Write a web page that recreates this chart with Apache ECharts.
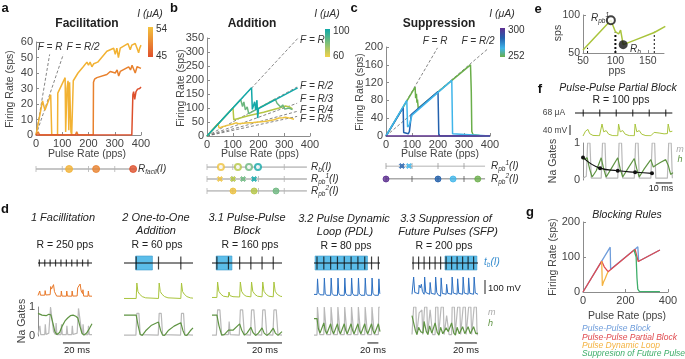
<!DOCTYPE html>
<html>
<head>
<meta charset="utf-8">
<script src="https://cdn.jsdelivr.net/npm/echarts@6/dist/echarts.min.js"></script>
<style>
html, body { margin: 0; padding: 0; background: #fff; }
#chart { width: 685px; height: 359px; }
</style>
</head>
<body>
<div id="chart"></div>
<script>
var FONT = '"Liberation Sans", Arial, Helvetica, sans-serif';

// ---------- a: facilitation (pulse rate pps, firing rate sps) ----------
var aHigh = [[0,0],[25,22],[34,16],[56,26],[60,0],[82,0],[83,27],[111,37],[113,2],[117,2],[118,30],[122,35],[125,3],[128,34],[133,2],[136,0],[140,0],[142,35],[160,40],[180,44],[194,47],[200,45],[206,47],[213,44],[220,46],[235,47],[255,51],[270,54],[277,53],[283,55],[296,56],[302,52],[308,56],[314,50],[321,56],[350,59],[359,55],[365,58],[372,57],[378,59],[385,56],[391,53],[395,56],[400,58]];
var aMid = [[0,0],[8,2],[14,0],[150,0],[155,2],[160,0],[218,0],[219,34],[223,36],[232,37],[270,39],[283,41],[302,40],[309,42],[315,38],[321,41],[353,44],[360,42],[366,45],[372,44],[378,40],[385,44],[391,45],[400,43]];
var aLow = [[0,0],[365,0],[369,26],[372,28],[376,23],[381,28],[387,29.6],[395,30],[400,31]];
var aRef = [[[0,0],[52,52]], [[0,0],[104,52]]];
var aFacil = [126, 229, 370];
var aCbar = ['54', '45'];

// ---------- b: addition ----------
var bTeal = [[0,0],[173,172],[176,95],[181,97],[185,122],[189,93],[194,128],[197,64],[200,98],[352,172]];
var bGreen = [[0,0],[131,130],[138,105],[143,122],[149,93],[156,104],[162,80],[265,132],[272,117],[279,123],[287,103],[294,111],[302,96],[318,100],[332,94]];
var bYG = [[0,0],[101,100],[104,58],[108,57],[160,72],[220,85],[280,100],[305,107],[320,104],[332,97]];
var bYellow = [[0,0],[43,45],[47,28],[60,33],[80,38],[100,43],[112,47],[116,40],[123,44],[130,44],[150,46],[180,48],[200,50],[230,53],[260,58],[280,64],[295,65],[305,67],[312,63],[325,63],[338,60]];
var bRef = [[[0,0],[354,350]], [[0,0],[350,175]], [[0,0],[350,117]], [[0,0],[350,88]], [[0,0],[350,70]]];
var bRefLabels = ['F = R', 'F = R/2', 'F = R/3', 'F = R/4', 'F = R/5'];
var bRb = [54, 120, 163, 198];
var bRpb1 = [50, 101, 140, 183];
var bRpb2 = [101, 183, 268];
var bCbar = ['100', '60'];

// ---------- c: suppression ----------
var cPurple = [[0,0],[400,0]];
var cGreen = [[0,0],[112,110],[114,85],[117,95],[119,75],[121,82],[124,62],[325,160],[328,100],[330,10],[335,3],[360,1],[400,0]];
var cDark = [[0,0],[66,64],[68,8],[72,4],[86,5],[90,10],[94,30],[97,48],[100,50],[200,100],[203,5],[207,0],[400,0]];
var cLight = [[0,0],[80,80],[83,20],[86,17],[90,25],[95,36],[100,47],[253,125],[256,5],[260,1],[400,0]];
var cRef = [[[0,0],[198,198]], [[0,0],[394,197]]];
var cRpb1 = [61, 88];
var cRpb2 = [0, 200, 258, 353];
var cCbar = ['300', '252'];

// ---------- e ----------
var eCurve = [[50,54],[93,93],[100,78],[103,80],[105,75],[108,80],[112,61],[130,67],[160,77],[177,85]];
var eRpb1 = [93, 93];
var eRb = [112, 61];
var eGuides = [[57,57],[100,77],[160,78]];

// ---------- f: pulse-pulse partial block, R = 100 pps (time in ms) ----------
var fPulse = [0, 10, 20, 30, 40, 50];
var fV = [[0,0],[0.5,0],[1.5,40],[3,55],[4,20],[6,5],[10,2],[11,5],[11.5,100],[12.5,35],[14,45],[15.5,15],[18,3],[21,2],[21.5,100],[22.5,35],[24,45],[25.5,15],[28,3],[31,2],[31.5,100],[32.5,35],[34,45],[35.5,15],[38,3],[41,2],[41.5,18],[43,30],[46,25],[49,18],[51,20],[51.5,100],[52.5,35],[54,40]];
var fM = [[0,0.05],[2,0.1],[2.8,1],[4.2,1],[5,0.05],[11,0.05],[11.8,1],[13.3,1],[14,0.05],[21,0.05],[21.8,1],[23.3,1],[24,0.05],[31,0.05],[31.8,1],[33.3,1],[34,0.05],[41,0.05],[41.8,1],[43.3,1],[44,0.05],[51,0.05],[51.8,1],[53.3,1],[54,0.05]];
var fH = [[0,0.55],[2.5,0.6],[4,0.3],[5.5,0.08],[8,0.25],[11,0.6],[12.5,0.3],[14,0.08],[17,0.3],[21,0.6],[22.5,0.3],[24,0.08],[27,0.3],[31,0.58],[32.5,0.3],[34,0.08],[37,0.3],[41,0.55],[42.5,0.35],[44,0.4],[47,0.48],[50,0.55],[51.5,0.4],[53,0.15],[54.4,0.2]];
var fDots = [[0,0.61],[10.3,0.32],[21,0.25],[31.5,0.21],[41.7,0.18]];

// ---------- g: blocking rules ----------
var gBlock = [[0,0],[88,88],[128,128],[130,65],[245,122],[258,129],[262,88],[362,120]];
var gPartial = [[0,0],[88,88],[100,72],[118,58],[245,122],[260,87],[362,120]];
var gLoop = [[88,88],[91,18],[96,20],[96,28],[104,28],[104,38],[112,40],[112,50],[118,58]];
var gSuppress = [[240,120],[245,122],[250,100],[254,40],[258,8],[265,2],[362,1]];
var gLegend = ['Pulse-Pulse Block', 'Pulse-Pulse Partial Block', 'Pulse Dynamic Loop', 'Suppresion of Future Pulses'];

// ---------- d: example traces (time in ms) ----------
var d1Pulse = [1,5,9,13,17,21,25,29,33,37];
var d1Block = [];
var d1V = [[0,10],[1,10],[1.3,45],[1.8,12],[5,12],[5.3,48],[5.8,14],[9,16],[9.4,80],[10,60],[11,65],[11.5,95],[12.2,40],[13,30],[13.3,55],[13.8,5],[17,4],[17.3,45],[17.8,5],[21,4],[21.3,45],[21.8,5],[25,4],[25.3,45],[25.8,5],[29,6],[29.4,70],[30.5,80],[31.2,100],[32,45],[33,25],[33.3,55],[33.8,5],[37,4],[37.3,45],[37.8,5],[40,4]];
var d1M = [[0,0.05],[1,0.05],[1.4,0.35],[2,0.05],[5,0.05],[5.4,0.4],[6,0.05],[8,0.1],[9.3,1],[10.5,1],[11.5,0.15],[13,0.05],[13.4,0.45],[14,0.05],[17,0.05],[17.4,0.4],[18,0.05],[21,0.05],[21.4,0.35],[22,0.05],[25,0.05],[25.4,0.35],[26,0.05],[29,0.1],[30,0.95],[31.3,1],[32.3,0.15],[33,0.05],[33.4,0.4],[34,0.05],[37,0.05],[37.4,0.35],[38,0.05],[40,0.05]];
var d1H = [[0,0.78],[3,0.72],[6,0.7],[8,0.75],[9.5,0.73],[11,0.45],[12.5,0.15],[14,0.05],[16,0.12],[18,0.35],[20,0.52],[22,0.62],[24,0.7],[26,0.72],[28,0.68],[29.5,0.62],[31,0.35],[32.5,0.1],[34,0.03],[36,0.1],[38,0.25],[40,0.42]];

var d2Pulse = [9,25.5,42];
var d2Block = [[8.6,21]];
var d2V = [[0,0],[9,0],[9.5,100],[10.3,45],[11.5,28],[13.5,12],[16,4],[25.5,0],[26,100],[26.8,45],[28,28],[30,12],[32.5,4],[42,0],[42.5,100],[43.3,45],[44.5,28],[46.5,12],[49,4],[51,2]];
var d2M = [[0,0.03],[8.8,0.03],[9.5,0.78],[11,0.78],[12,0.05],[25.3,0.03],[26,0.78],[27.5,0.78],[28.5,0.05],[41.8,0.03],[42.5,0.78],[44,0.78],[45,0.05],[51,0.03]];
var d2H = [[0,0.72],[9,0.72],[10.5,0.35],[12,0.05],[13.5,0.02],[16,0.18],[20,0.36],[25.5,0.48],[27,0.2],[28.5,0.03],[30,0.02],[33,0.2],[37,0.34],[42,0.46],[43.5,0.2],[45,0.03],[46.5,0.02],[49,0.18],[51,0.28]];

var d31Pulse = [2.8,9.4,15.8,22.2,28.6,35];
var d31Block = [[2.4,11.4]];
var d31V = [[0,0],[2.8,0],[3.2,100],[3.9,40],[5,22],[6.5,8],[9.4,3],[9.7,35],[10.2,12],[12,5],[15.8,3],[16.2,100],[16.9,40],[18,20],[19.5,8],[22.2,4],[22.6,100],[23.3,40],[24.5,20],[26,8],[28.6,4],[29,100],[29.7,40],[31,20],[32.5,8],[35,4],[35.4,100],[36.1,40],[37.3,20],[39,8],[40,6]];
var d31M = [[0,0.03],[2.5,0.03],[3.2,0.9],[4.5,0.9],[5.5,0.05],[9.4,0.05],[9.8,0.5],[10.4,0.05],[15.6,0.03],[16.2,0.9],[17.5,0.9],[18.5,0.05],[22,0.03],[22.6,0.9],[23.9,0.9],[24.9,0.05],[28.4,0.03],[29,0.9],[30.3,0.9],[31.3,0.05],[34.8,0.03],[35.4,0.9],[36.7,0.9],[37.7,0.05],[40,0.03]];
var d31H = [[0,0.72],[2.8,0.72],[4,0.35],[5.5,0.03],[7,0.05],[9.4,0.2],[10,0.15],[12,0.2],[15.8,0.42],[17,0.2],[18.5,0.03],[20,0.1],[22.2,0.3],[23.4,0.12],[24.9,0.02],[26.5,0.1],[28.6,0.28],[29.8,0.1],[31.3,0.02],[33,0.1],[35,0.27],[36.2,0.1],[37.7,0.02],[40,0.15]];

var d32Pulse = [5.5,18,30.5,43,55.5,68,80.5,93,105.5,118];
var d32Block = [[2,98]];
var d32V = [[0,5],[5.5,5],[6.5,95],[8,15],[11,3],[18,2],[19,100],[20.5,12],[23,0],[30.5,0],[31.5,100],[33,12],[36,0],[43,0],[44,100],[45.5,12],[48,0],[55.5,0],[56.5,100],[58,12],[61,0],[68,0],[69,100],[70.5,12],[73,0],[80.5,0],[81.5,100],[83,12],[86,0],[93,0],[94,100],[95.5,12],[98,0],[105.5,0],[106.5,100],[108,12],[111,0],[118,0],[119,95],[120.5,12],[121,8]];
var d32M = [[0,0.03],[5.5,0.03],[6.3,1],[9.5,1],[10.5,0.05],[18,0.05],[18.8,1],[22,1],[23,0.05],[30.5,0.05],[31.3,1],[34.5,1],[35.5,0.05],[43,0.05],[43.8,1],[47,1],[48,0.05],[55.5,0.05],[56.3,1],[59.5,1],[60.5,0.05],[68,0.05],[68.8,1],[72,1],[73,0.05],[80.5,0.05],[81.3,1],[84.5,1],[85.5,0.05],[93,0.05],[93.8,1],[97,1],[98,0.05],[105.5,0.05],[106.3,1],[109.5,1],[110.5,0.05],[118,0.05],[118.8,1],[121,1]];
var d32H = [[0,0.6],[5.5,0.6],[8,0.25],[11,0.1],[18,0.45],[20.5,0.2],[23.5,0.08],[30.5,0.42],[33,0.2],[36,0.08],[43,0.42],[45.5,0.2],[48.5,0.08],[55.5,0.42],[58,0.2],[61,0.08],[68,0.42],[70.5,0.2],[73.5,0.08],[80.5,0.42],[83,0.2],[86,0.08],[93,0.42],[95.5,0.2],[98.5,0.08],[105.5,0.42],[108,0.2],[111,0.08],[118,0.42],[121,0.15]];

var d33Pulse = [1,6,11,16,21,26,31,36,41,46,51,56];
var d33Block = [[30,59]];
var d33V = [[0,5],[1,5],[1.5,100],[2.5,15],[4,5],[6,8],[6.5,55],[7.5,40],[8.5,60],[9.5,20],[11,5],[11.5,100],[12.5,15],[14,5],[16,5],[16.5,70],[17.5,10],[21,5],[21.5,100],[22.5,15],[24,0],[26,-5],[26.5,95],[27.5,10],[31,5],[31.5,60],[32.5,10],[36,5],[36.5,100],[37.5,12],[41,5],[41.5,90],[42.5,10],[46,5],[46.5,100],[47.5,12],[51,5],[51.5,95],[52.5,10],[56,5],[56.5,100],[57.5,12],[60,5]];
var d33M = [[0,0.05],[1,0.05],[1.5,1],[3.5,1],[4.2,0.05],[6,0.05],[6.5,0.8],[9,0.9],[9.8,0.05],[11,0.05],[11.5,1],[13.5,1],[14.2,0.05],[16,0.05],[16.5,0.9],[18,0.9],[18.7,0.05],[21,0.05],[21.5,1],[23.5,1],[24.2,0.05],[26,0.05],[26.5,1],[28.5,1],[29.2,0.05],[31,0.05],[31.5,0.7],[33,0.7],[33.7,0.05],[36,0.05],[36.5,1],[38.5,1],[39.2,0.05],[41,0.05],[41.5,1],[43.5,1],[44.2,0.05],[46,0.05],[46.5,1],[48.5,1],[49.2,0.05],[51,0.05],[51.5,1],[53.5,1],[54.2,0.05],[56,0.05],[56.5,1],[58.5,1],[59.2,0.05],[60,0.05]];
var d33H = [[0,0.7],[1,0.7],[3,0.2],[4.5,0.05],[6,0.3],[8,0.15],[10,0.1],[11,0.5],[13,0.15],[14.5,0.05],[16,0.35],[18,0.1],[21,0.45],[23,0.12],[24.5,0.03],[26,0.3],[28,0.08],[29.5,0.03],[31,0.28],[33,0.15],[36,0.45],[38,0.1],[39.5,0.03],[41,0.3],[43,0.08],[44.5,0.03],[46,0.32],[48,0.08],[49.5,0.03],[51,0.32],[53,0.08],[54.5,0.03],[56,0.32],[58,0.08],[60,0.1]];

// colours
var C = {
  aHigh: '#f2b233', aMid: '#e8812d', aLow: '#dd4f2b',
  bTeal: '#13a8a8', bGreen: '#6bb67e', bYG: '#b4c643', bYellow: '#edc23e',
  cPurple: '#5d2e91', cDark: '#2361ae', cLight: '#3fb5ea', cGreen: '#6aae4a',
  lime: '#a9c43c', m: '#b9b9b9', h: '#5f9443', vBlue: '#2c6fc0', vOrange: '#e8792a',
  gBlue: '#6f9ddb', gRed: '#e04a4f', gOrange: '#f4b341', gGreen: '#3fae6a'
};

var grid = [], xAxis = [], yAxis = [], series = [], graphic = [];

function addGrid(l, t, w, h, xa, ya) {
  var i = grid.length;
  grid.push({ left: l, top: t, width: w, height: h, containLabel: false, outerBoundsMode: 'none' });
  xa.gridIndex = i; xa.type = 'value';
  ya.gridIndex = i; ya.type = 'value';
  xAxis.push(xa); yAxis.push(ya);
  return i;
}
function hid(min, max, inverse) {
  return { show: false, min: min, max: max, inverse: !!inverse };
}
function vis(min, max, interval, extra) {
  var o = {
    min: min, max: max, interval: interval,
    axisLine: { show: true, lineStyle: { color: '#8c8c8c', width: 1 } },
    axisTick: { show: true, inside: true, length: 3, lineStyle: { color: '#8c8c8c' } },
    axisLabel: { color: '#444', fontSize: 11, fontFamily: FONT, margin: 3, showMaxLabel: true },
    splitLine: { show: false }
  };
  return Object.assign(o, extra || {});
}
function addLine(gi, data, color, width, extra) {
  series.push(Object.assign({
    type: 'line', xAxisIndex: gi, yAxisIndex: gi, data: data, symbol: 'none',
    lineStyle: { color: color, width: width }, itemStyle: { color: color },
    silent: true, z: 2
  }, extra || {}));
}
function addDashed(gi, data) {
  addLine(gi, data, '#666', 0.8, { lineStyle: { color: '#666', width: 0.8, type: [3, 2] } });
}
function addMarks(gi, items, symbol, size, extra) {
  series.push(Object.assign({
    type: 'scatter', xAxisIndex: gi, yAxisIndex: gi, data: items, symbol: symbol,
    symbolSize: size, silent: true, z: 5
  }, extra || {}));
}
function addTrain(gi, pulses, blocks, x0, x1, tickH) {
  if (blocks.length) {
    series.push({
      type: 'line', xAxisIndex: gi, yAxisIndex: gi, data: [[x0, 0]], symbol: 'none',
      lineStyle: { opacity: 0 }, z: 1, silent: true,
      markArea: {
        silent: true,
        itemStyle: { color: '#5bbde9', borderColor: '#3d9ccc', borderWidth: 0.6 },
        data: blocks.map(function (b) { return [{ coord: [b[0], -1] }, { coord: [b[1], 1] }]; })
      }
    });
  }
  addLine(gi, [[x0, 0], [x1, 0]], '#111', 1, { z: 3 });
  addMarks(gi, pulses.map(function (p) { return [p, 0]; }), 'rect', [1.2, tickH], { itemStyle: { color: '#111' }, z: 4 });
}
function txt(x, y, s, o) {
  graphic.push(Object.assign({
    type: 'text', x: x, y: y, silent: true,
    style: Object.assign({
      text: s, fill: '#333', fontSize: 11, fontFamily: FONT,
      align: 'center', verticalAlign: 'middle', textAlign: 'center', textVerticalAlign: 'middle'
    }, o || {})
  }, (o && o.rot) ? { rotation: o.rot } : {}));
}
function rich(x, y, s, color) {
  var base = { fontFamily: FONT, fontStyle: 'italic', fill: color, color: color };
  graphic.push({
    type: 'text', x: x, y: y, silent: true,
    style: {
      text: s, fill: color, fontSize: 10, fontFamily: FONT, fontStyle: 'italic',
      align: 'left', verticalAlign: 'middle', textAlign: 'left', textVerticalAlign: 'middle',
      rich: {
        m: Object.assign({ fontSize: 10, lineHeight: 13 }, base),
        s: Object.assign({ fontSize: 6.5, lineHeight: 5, verticalAlign: 'bottom' }, base),
        p: Object.assign({ fontSize: 6.5, lineHeight: 5, verticalAlign: 'top' }, base)
      }
    }
  });
}
function cbar(x, y, h, stops, labels) {
  graphic.push({
    type: 'rect', silent: true, shape: { x: x, y: y, width: 5, height: h },
    style: { fill: new echarts.graphic.LinearGradient(0, 0, 0, 1, stops) }
  });
  txt(x + 8, y + 2, labels[0], { align: 'left', textAlign: 'left', fontSize: 10 });
  txt(x + 8, y + h - 1, labels[1], { align: 'left', textAlign: 'left', fontSize: 10 });
  txt(x + 2, 14, 'I (\u03bcA)', { fontStyle: 'italic', fontSize: 10.5 });
}
function colored(xs, row, colors) {
  return xs.map(function (x, i) {
    return { value: [x, row], itemStyle: { color: colors[i], borderColor: colors[i] } };
  });
}
var XMARK = 'path://M0,2L2,0L5,3L8,0L10,2L7,5L10,8L8,10L5,7L2,10L0,8L3,5Z';
function dotRow(gi, row, end, color, width) {
  addLine(gi, [[0, row], [end, row]], color, width);
  addMarks(gi, [0, 100, 200, 300].map(function (x) { return [x, row]; }), 'rect', [1, 6], { itemStyle: { color: color }, z: 3 });
}

// ---------- panel a ----------
var ga = addGrid(36, 42, 105, 93, vis(0, 400, 100), vis(0, 60, 10));
aRef.forEach(function (d) { addDashed(ga, d); });
addLine(ga, aHigh, C.aHigh, 1.5);
addLine(ga, aMid, C.aMid, 1.5);
addLine(ga, aLow, C.aLow, 1.5);
var gad = addGrid(36, 165, 105, 8, hid(0, 400), hid(-1, 1));
dotRow(gad, 0, 380, '#b3b3b3', 1.3);
addMarks(gad, colored(aFacil, 0, [C.aHigh, C.aMid, C.aLow]), 'circle', 7);

// ---------- panel b ----------
var gb = addGrid(207, 38, 103, 98, vis(0, 400, 100), vis(0, 350, 50));
bRef.forEach(function (d) { addDashed(gb, d); });
addLine(gb, bYellow, C.bYellow, 1.5);
addLine(gb, bYG, C.bYG, 1.5);
addLine(gb, bGreen, C.bGreen, 1.5);
addLine(gb, bTeal, C.bTeal, 1.5);
var bCols = [C.bYellow, C.bYG, C.bGreen, C.bTeal];
var gbd = addGrid(207, 167, 103, 24, hid(0, 400), hid(0, 2, true));
[0, 1, 2].forEach(function (r) { dotRow(gbd, r, 388, '#b3b3b3', 1.3); });
addMarks(gbd, colored(bRb, 0, bCols), 'emptyCircle', 6, { itemStyle: { borderWidth: 1.6 } });
addMarks(gbd, colored(bRpb1, 1, bCols), XMARK, 5);
addMarks(gbd, colored(bRpb2, 2, [C.bYellow, C.bYG, C.bGreen]), 'circle', 6);

// ---------- panel c ----------
var gc = addGrid(386, 47, 104, 89, vis(0, 400, 100), vis(0, 200, 40));
cRef.forEach(function (d) { addDashed(gc, d); });
addLine(gc, cGreen, C.cGreen, 1.5);
addLine(gc, cDark, C.cDark, 1.5);
addLine(gc, cLight, C.cLight, 1.5);
addLine(gc, cPurple, C.cPurple, 1.5);
var gcd = addGrid(386, 166, 104, 13, hid(0, 400), hid(0, 1, true));
dotRow(gcd, 0, 381, '#9a9a9a', 1);
dotRow(gcd, 1, 381, '#555', 1);
addMarks(gcd, colored(cRpb1, 0, [C.cDark, C.cLight]), XMARK, 5);
addMarks(gcd, colored(cRpb2, 1, [C.cPurple, C.cDark, C.cLight, C.cGreen]), 'circle', 6);

// ---------- panel e ----------
var ge = addGrid(583, 15, 81, 38,
  vis(50, 175, 50, { axisLabel: { color: '#444', fontSize: 10.5, fontFamily: FONT, margin: 3, showMaxLabel: false } }),
  vis(50, 100, 50, { axisLabel: { color: '#444', fontSize: 10.5, fontFamily: FONT, margin: 3 } }));
eGuides.forEach(function (g, i) {
  addLine(ge, [[g[0], 50], g], '#111', i === 1 ? 2 : 1, { lineStyle: { color: '#111', width: i === 1 ? 2 : 1, type: [2, 2] } });
});
addLine(ge, eCurve, C.lime, 1.5);
addMarks(ge, [eRpb1], 'emptyCircle', 8, { itemStyle: { color: '#111', borderColor: '#111', borderWidth: 2 } });
addMarks(ge, [eRb], 'circle', 9, { itemStyle: { color: '#111' } });

// ---------- panel f ----------
var gft = addGrid(575, 106, 98, 14, hid(-5, 54.4), hid(-1, 1));
addTrain(gft, fPulse, [], -5, 54, 7);
var gfv = addGrid(583, 124, 90, 12, hid(0, 54.4), hid(0, 100));
addLine(gfv, fV, C.lime, 1);
var gfg = addGrid(583, 143, 90, 37, hid(0, 54.4), vis(0, 1, 1, { axisTick: { show: false } }));
addLine(gfg, fM, C.m, 1.2);
addLine(gfg, fH, C.h, 1.2);
addLine(gfg, fDots, '#111', 1.2, { smooth: true, symbol: 'circle', symbolSize: 4, showSymbol: true, itemStyle: { color: '#111' }, z: 5 });
addLine(gfg, [[44, -0.08], [54, -0.08]], '#111', 1, { clip: false });

// ---------- panel g ----------
var gg = addGrid(583, 222, 85, 70, vis(0, 400, 200), vis(0, 200, 100));
addLine(gg, gBlock, C.gBlue, 1.3);
addLine(gg, gPartial, C.gRed, 1.3);
addLine(gg, gLoop, C.gOrange, 1.3);
addLine(gg, gSuppress, C.gGreen, 1.3);

// ---------- panel d ----------
var dPanels = [
  { left: 38, width: 54, T: 40, vTop: 284, vH: 14, pulse: d1Pulse, block: d1Block, v: d1V, m: d1M, h: d1H, vc: C.vOrange, tick: 7, bar: [18.5, 38.5] },
  { left: 124, width: 69, T: 51, vTop: 283, vH: 17, pulse: d2Pulse, block: d2Block, v: d2V, m: d2M, h: d2H, vc: C.lime, tick: 13, bar: null },
  { left: 212, width: 70, T: 40, vTop: 282, vH: 17, pulse: d31Pulse, block: d31Block, v: d31V, m: d31M, h: d31H, vc: C.lime, tick: 13, bar: [20, 40] },
  { left: 314, width: 66, T: 121, vTop: 278, vH: 19, pulse: d32Pulse, block: d32Block, v: d32V, m: d32M, h: d32H, vc: C.vBlue, tick: 13, bar: [98, 118] },
  { left: 412, width: 66, T: 60, vTop: 277, vH: 20, pulse: d33Pulse, block: d33Block, v: d33V, m: d33M, h: d33H, vc: C.vBlue, tick: 13, bar: [39, 59] }
];
dPanels.forEach(function (p, k) {
  var gt = addGrid(p.left, 256, p.width, 14, hid(0, p.T), hid(-1, 1));
  addTrain(gt, p.pulse, p.block, 0, p.T, p.tick);
  var gv = addGrid(p.left, p.vTop, p.width, p.vH, hid(0, p.T), hid(-10, 100));
  addLine(gv, p.v, p.vc, 1);
  var gy = k === 0 ? vis(0, 1, 1, { axisTick: { show: false } }) : hid(0, 1);
  var gn = addGrid(p.left, 307, p.width, 29, hid(0, p.T), gy);
  addLine(gn, p.m, C.m, 1.2);
  addLine(gn, p.h, C.h, 1.2);
  if (p.bar) addLine(gn, [[p.bar[0], -0.24], [p.bar[1], -0.24]], '#111', 1, { clip: false });
});

// ---------- text ----------
var bold = { fontWeight: 'bold', fontSize: 13, fill: '#111' };
txt(5, 8, 'a', bold); txt(174, 8, 'b', bold); txt(354, 8, 'c', bold);
txt(5, 209, 'd', bold); txt(538, 9, 'e', bold); txt(540, 89, 'f', bold); txt(530, 212, 'g', bold);

var ttl = { fontWeight: 'bold', fontSize: 12, fill: '#222' };
txt(87, 24, 'Facilitation', ttl);
txt(252, 24, 'Addition', ttl);
txt(439, 24, 'Suppression', ttl);

var axn = { fontSize: 10.5, fill: '#444' };
var rotN = { fontSize: 10.5, fill: '#444', rot: Math.PI / 2 };
txt(10, 89, 'Firing Rate (sps)', rotN);
txt(87, 154, 'Pulse Rate (pps)', axn);
txt(181, 88, 'Firing Rate (sps)', rotN);
txt(260, 154, 'Pulse Rate (pps)', axn);
txt(360, 92, 'Firing Rate (sps)', rotN);
txt(440, 154, 'Pulse Rate (pps)', axn);
txt(558, 33, 'sps', { fontSize: 10.5, fill: '#444', rot: Math.PI / 2 });
txt(617, 71, 'pps', { fontSize: 10.5, fill: '#444' });
txt(553, 257, 'Firing Rate (sps)', rotN);
txt(627, 316, 'Pulse Rate (pps)', axn);
txt(22, 321, 'Na Gates', rotN);
txt(553, 161, 'Na Gates', rotN);

var it = { fontStyle: 'italic', fontSize: 10, fill: '#333' };
txt(50, 47, 'F = R', it);
txt(83, 47, 'F = R/2', it);
var bLabY = [40, 86, 99, 110, 119];
bRefLabels.forEach(function (s, i) { txt(300, bLabY[i], s, Object.assign({ align: 'left', textAlign: 'left' }, it)); });
txt(435, 41, 'F = R', it);
txt(478, 41, 'F = R/2', it);

cbar(148, 27, 30, [{ offset: 0, color: '#f4c23d' }, { offset: 1, color: '#e0502b' }], aCbar);
cbar(325, 29, 28, [{ offset: 0, color: '#10a8a8' }, { offset: 0.5, color: '#7cbf78' }, { offset: 1, color: '#f2d24a' }], bCbar);
cbar(500, 28, 29, [{ offset: 0, color: '#5d2e91' }, { offset: 0.35, color: '#2361ae' }, { offset: 0.7, color: '#3fb5ea' }, { offset: 1, color: '#6aae4a' }], cCbar);

rich(138, 169, '{m|R}{s|facil}{m|(I)}', '#333');
rich(311, 167, '{m|R}{s|b}{m|(I)}', '#333');
rich(311, 179, '{m|R}{s|pb}{p|1}{m|(I)}', '#333');
rich(311, 191, '{m|R}{s|pb}{p|2}{m|(I)}', '#333');
rich(491, 166, '{m|R}{s|pb}{p|1}{m|(I)}', '#333');
rich(491, 179, '{m|R}{s|pb}{p|2}{m|(I)}', '#333');
rich(591, 18, '{m|R}{s|pb}{p|1}', '#333');
rich(630, 49, '{m|R}{s|b}', '#333');
rich(484, 262, '{m|t}{s|b}{m|(I)}', '#3a8fd0');

// f annotations
txt(618, 88, 'Pulse-Pulse Partial Block', { fontStyle: 'italic', fontSize: 10.5, fill: '#222' });
txt(621, 100, 'R = 100 pps', { fontSize: 10.5, fill: '#222' });
txt(554, 113, '68 \u03bcA', { fontSize: 8.5, fill: '#444' });
txt(555, 131, '40 mV', { fontSize: 8.5, fill: '#444' });
graphic.push({ type: 'line', silent: true, shape: { x1: 570, y1: 125, x2: 570, y2: 135 }, style: { stroke: '#222', lineWidth: 1 } });
txt(680, 149, 'm', { fontStyle: 'italic', fontSize: 9, fill: '#aaa' });
txt(680, 159, 'h', { fontStyle: 'italic', fontSize: 9, fill: C.h });
txt(661, 189, '10 ms', { fontSize: 9, fill: '#222' });

// g annotations
txt(627, 215, 'Blocking Rules', { fontStyle: 'italic', fontSize: 10.5, fill: '#222' });
var gCols = [C.gBlue, C.gRed, C.gOrange, C.gGreen];
gLegend.forEach(function (s, i) {
  txt(582, 329 + i * 8.2, s, { fontStyle: 'italic', fontSize: 8.5, fill: gCols[i], align: 'left', textAlign: 'left' });
});

// d annotations
var dt = { fontStyle: 'italic', fontSize: 11, fill: '#222' };
var dr = { fontSize: 10.5, fill: '#222' };
txt(63, 218, '1 Facillitation', dt);
txt(156, 218, '2 One-to-One', dt); txt(156, 231, 'Addition', dt);
txt(247, 218, '3.1 Pulse-Pulse', dt); txt(247, 231, 'Block', dt);
txt(344, 219, '3.2 Pulse Dynamic', dt); txt(345, 232, 'Loop (PDL)', dt);
txt(446, 219, '3.3 Suppression of', dt); txt(448, 232, 'Future Pulses (SFP)', dt);
txt(65, 245, 'R = 250 pps', dr);
txt(157, 245, 'R = 60 pps', dr);
txt(250, 245, 'R = 160 pps', dr);
txt(346, 246, 'R = 80 pps', dr);
txt(444, 246, 'R = 200 pps', dr);
['20 ms', '20 ms', '20 ms', '20 ms'].forEach(function (s, i) {
  txt([77, 265, 373, 466][i], 350, s, { fontSize: 9.5, fill: '#222' });
});
graphic.push({ type: 'line', silent: true, shape: { x1: 485, y1: 280, x2: 485, y2: 294 }, style: { stroke: '#222', lineWidth: 1 } });
txt(488, 288, '100 mV', { fontSize: 9.5, fill: '#222', align: 'left', textAlign: 'left' });
txt(488, 312, 'm', { fontStyle: 'italic', fontSize: 9, fill: '#aaa', align: 'left', textAlign: 'left' });
txt(488, 323, 'h', { fontStyle: 'italic', fontSize: 9, fill: C.h, align: 'left', textAlign: 'left' });

var chart = echarts.init(document.getElementById('chart'), null, { renderer: 'canvas' });
chart.setOption({
  animation: false,
  backgroundColor: '#fff',
  textStyle: { fontFamily: FONT },
  grid: grid,
  xAxis: xAxis,
  yAxis: yAxis,
  series: series,
  graphic: graphic
});
</script>
</body>
</html>
